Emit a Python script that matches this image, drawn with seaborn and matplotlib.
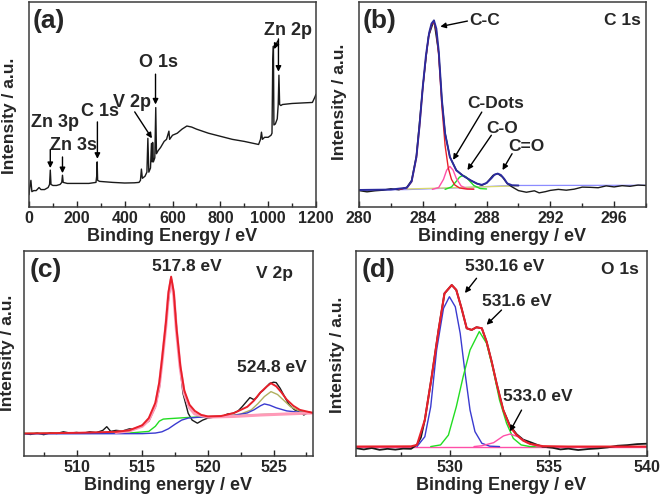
import matplotlib
matplotlib.use("Agg")
import matplotlib.pyplot as plt
from matplotlib.ticker import MultipleLocator
import seaborn as sns

# ---- (a) survey spectrum ----
survey_energy = [0, 4, 8, 12, 20, 30, 42, 50, 65, 80, 86, 89, 92, 100, 115, 130, 137, 140, 143, 160,
                 200, 250, 280, 283, 285, 287, 295, 350, 400, 440, 460, 466, 470, 474, 485, 493, 497, 501, 508, 512,
                 515, 517, 520, 526, 530, 533, 540, 550, 565, 575, 585, 588, 600, 620, 640, 660, 680, 700, 750, 800,
                 850, 900, 940, 960, 968, 972, 976, 985, 1000, 1012, 1016, 1019, 1022, 1024, 1030, 1038, 1042, 1045, 1048, 1053,
                 1060, 1100, 1150, 1185, 1195, 1200]
survey_counts = [6, 10, 13, 7.5, 8, 8, 9.5, 8.5, 8.5, 9.5, 11, 18, 11, 10.5, 10.5, 11, 12, 15.5, 12, 11.5,
                 11.5, 11.5, 12, 15, 22, 13, 12.5, 12, 11.7, 11.8, 12, 13, 18.5, 14, 15, 17, 33.5, 17, 19, 31,
                 22, 31.5, 22, 24, 48.5, 26, 27.5, 29, 32, 33, 37, 33, 35, 36, 38, 39.5, 39, 38, 36, 34.5,
                 33, 32, 31, 30.5, 33, 36.5, 33, 34, 34, 35, 36, 70, 78.5, 40, 40.5, 43, 50, 64.3, 50, 49.5,
                 50, 50.5, 50.8, 51, 53.5, 55]

# ---- (b) C 1s ----
c1s_energy = [280, 280.5, 281, 281.5, 282, 282.5, 283, 283.3, 283.6, 284.0, 284.35, 284.7, 285.0, 285.2, 285.4,
              285.7, 286.1, 286.5, 287.0, 287.4, 287.7, 288.0, 288.4, 288.7, 289.0, 289.3, 289.6, 290.0, 290.5,
              291.0, 291.3, 291.7, 292.0, 292.5, 293.0, 293.5, 294.0, 294.5, 295.0, 295.5, 296.0, 296.5, 297.0,
              297.5, 298.0]
c1s_raw = [8.0, 7.4, 7.9, 8.2, 8.9, 8.4, 9.6, 13, 25, 58.5, 83, 91, 75, 52, 36,
           24.4, 18, 15.4, 13, 11.4, 10.6, 11.7, 15.4, 16.3, 14.6, 11.4, 9.8, 8.0, 7.2,
           7.9, 6.9, 7.5, 8.1, 8.6, 8.2, 8.7, 9.7, 9.6, 9.4, 10.3, 9.8, 10.4, 10.1,
           10.7, 10.5]
c1s_fit_energy = [280, 282, 283, 283.3, 283.6, 283.8, 284.0, 284.2, 284.4, 284.55, 284.7, 284.85, 285.0, 285.2,
                  285.4, 285.7, 286.1, 286.5, 287.0, 287.4, 287.7, 288.0, 288.3, 288.5, 288.7, 288.9, 289.1,
                  289.3, 289.6, 290.0]
c1s_fit = [8.3, 8.5, 9.4, 12.5, 24.4, 40, 58.5, 74, 85, 89.5, 91, 87, 76, 52,
           35.8, 24.4, 17.9, 15.4, 13, 11.4, 10.8, 11.7, 14, 15.8, 16.3, 15.6, 13.8,
           11.5, 10.6, 10.5]
cc_energy = [282.5, 283.0, 283.3, 283.6, 283.8, 284.0, 284.2, 284.4, 284.55, 284.7, 284.85, 285.0, 285.2, 285.4,
             285.6, 285.8, 286.0, 286.3, 286.7, 287.2]
cc_fit = [8.6, 9.3, 12.3, 24, 39.5, 58, 73.5, 84.5, 89, 90.3, 86, 74, 49, 30,
          19, 13.5, 10.8, 9.3, 8.8, 8.7]
dots_energy = [284.6, 285.0, 285.3, 285.5, 285.7, 285.9, 286.1, 286.4, 286.8, 287.2]
dots_fit = [8.6, 9.5, 13.5, 18, 19.8, 18, 14, 10.3, 8.8, 8.7]
co_energy = [285.4, 285.8, 286.1, 286.3, 286.5, 286.7, 286.9, 287.2, 287.6, 288.0]
co_fit = [8.6, 9.8, 12.5, 14.5, 15.4, 14.8, 13, 10.5, 9, 8.8]
c1s_bg_energy = [280, 283, 286, 289, 290, 298]
c1s_bg = [8.3, 8.5, 9.3, 10.3, 10.5, 10.6]

# ---- (c) V 2p ----
v_energy = [506, 506.5, 507, 507.5, 508, 508.5, 509, 509.5, 510, 510.5, 511, 511.5,
            512, 512.3, 512.6, 513, 513.5, 514, 514.5, 515,
            515.5, 516.0, 516.3, 516.6, 516.8, 517.0, 517.2, 517.45, 517.75, 518.1,
            518.5, 518.8, 519.2, 519.6, 520, 520.5, 521, 521.5, 521.9, 522.3,
            522.6, 523.0, 523.2, 523.5, 523.7, 524.0, 524.2, 524.5, 524.7, 525.0,
            525.2, 525.5, 525.7, 526.0, 526.2, 526.6, 527.0, 527.3, 527.7, 528]
v_raw = [11, 10.5, 11.2, 10.4, 11.3, 11, 11.8, 11.2, 11.5, 11.1, 11.8, 11.4,
         12.5, 14.3, 12, 12.5, 12.2, 13.2, 13.3, 15,
         17, 24, 33, 51.7, 65, 76, 86.5, 76, 51.7, 30.6,
         20.8, 17.5, 16, 17.5, 18.5, 19, 19, 20.5, 20.8, 22,
         24, 27, 28.5, 27.5, 28.5, 31, 32, 34, 35.4, 36,
         35.8, 33, 30.6, 27, 24.9, 22.5, 21.6, 20, 21.5, 20.8]
v_fit_energy = [506, 510, 513, 514, 515, 515.5, 516, 516.3, 516.5, 516.8, 517.0, 517.2, 517.4, 517.6, 517.9,
                518.2, 518.6, 519, 519.5, 520, 521, 522, 523, 523.5, 524, 524.5, 524.8, 525.2, 525.6, 526,
                526.5, 527, 528]
v_fit = [11, 11.3, 11.8, 12.5, 15, 18.5, 26, 36, 47, 65, 80, 87.5, 80, 63, 44,
         32, 25, 22, 20, 19.3, 19.5, 21, 24, 27, 31, 34, 35.5, 34, 31, 27.5,
         24.5, 22.5, 21]
v32_energy = [513, 514, 515, 515.5, 516, 516.3, 516.5, 516.8, 517.0, 517.2, 517.4, 517.6, 517.9, 518.2,
              518.6, 519, 520, 522, 524, 526, 528]
v32_fit = [11.5, 12.2, 14.5, 17.5, 24.5, 34.5, 45.5, 63.5, 78.5, 86, 78.5, 61.5, 42.5, 30.5,
           23.5, 20.5, 19, 19.3, 20, 20.5, 21]
v_green_energy = [506, 514, 515.5, 516.0, 516.3, 516.6, 517.0, 517.5, 518.5, 520, 522, 524, 526, 528]
v_green = [11, 11.2, 12, 14.5, 17, 18, 18.2, 18.4, 18.8, 19.2, 19.6, 20.2, 20.6, 21]
v12_energy = [521.5, 522.5, 523.3, 523.8, 524.3, 524.8, 525.3, 525.8, 526.3, 527, 528]
v12_fit = [19.5, 20.5, 22.5, 25.5, 29, 31.4, 30, 27, 24, 21.8, 21]
v_blue_energy = [506, 515, 516, 516.5, 517, 517.5, 518, 518.5, 519.5, 521, 522, 523, 523.5, 524.0, 524.3,
                 524.7, 525.2, 526, 527, 528]
v_blue = [10.8, 10.9, 11.2, 11.8, 13.3, 15.5, 17.5, 18.5, 19, 19.4, 19.8, 21, 22.5, 24.5, 25.4,
          24.8, 23.5, 22, 21.3, 21]

# ---- (d) O 1s ----
o_energy = [525.2, 525.6, 526, 526.4, 526.8, 527.2, 527.6, 528, 528.3, 528.5,
            528.7, 529.05, 529.4, 529.7, 530.07, 530.3, 530.57, 530.83, 531.08, 531.33,
            531.6, 531.84, 532.1, 532.35, 532.69, 533.03, 533.37, 533.7, 534.05, 534.4,
            534.7, 535.2, 535.6, 536, 536.5, 537, 537.5, 538, 538.5, 539, 539.5, 540]
o_raw = [3.8, 3.2, 3.9, 3.0, 3.5, 3.1, 3.6, 3.5, 5.5, 9,
         17.6, 38.7, 61.5, 79.3, 83.4, 81, 72, 62.3, 61.5, 62.8,
         62.3, 55.8, 46, 35.4, 22.4, 14.8, 10.6, 8, 6.8, 5.5,
         4.5, 4.0, 3.2, 3.6, 2.9, 3.4, 3.7, 4.2, 5.0, 5.3, 5.8, 6.0]
o_fit_energy = [525.2, 528, 528.3, 528.7, 529.05, 529.4, 529.7, 530.07, 530.3, 530.57, 530.83, 531.08, 531.33,
                531.6, 531.84, 532.1, 532.35, 532.69, 533.03, 533.37, 533.7, 534.05, 534.7, 536, 540]
o_fit = [4.6, 4.7, 5.4, 17.6, 38.7, 61.5, 79.3, 83.4, 81, 72, 62.3, 61.5, 62.8,
         62.3, 55.8, 46, 35.4, 22.4, 14.3, 10.2, 7.5, 5.9, 4.8, 4.6, 4.6]
o1_energy = [528.3, 528.7, 529.0, 529.3, 529.65, 529.95, 530.25, 530.5, 530.75, 531.0, 531.25, 531.6, 532.0, 532.5]
o1_fit = [4.6, 9.4, 24, 51.7, 72, 77.7, 72.8, 59.8, 40.3, 22.4, 11.9, 6.2, 4.8, 4.6]
o2_energy = [529.0, 529.5, 529.9, 530.3, 530.65, 531.0, 531.47, 531.84, 532.18, 532.5, 532.86, 533.2, 533.6,
             534.05, 534.6]
o2_fit = [4.6, 5.4, 10.2, 24, 38.7, 51.7, 60.7, 55, 42, 27.3, 15.9, 8.6, 5.4, 4.6, 4.6]
o3_energy = [531.2, 531.6, 532.2, 532.7, 533.03, 533.45, 533.9, 534.4, 534.9]
o3_fit = [4.6, 5, 6.5, 9.8, 10.7, 9.4, 6.5, 4.8, 4.6]
o_bg_energy = [525.2, 540]
o_bg = [4.6, 4.6]

# ---- style ----
sns.set_style("ticks", {"xtick.direction": "in", "ytick.direction": "in"})
plt.rcParams["font.family"] = ["Liberation Sans", "DejaVu Sans"]
plt.rcParams["font.weight"] = "bold"
plt.rcParams["axes.labelweight"] = "bold"

BLACK = "#1a1a1a"
NAVY = "#2b2b9e"
RED = "#e8202a"
PINK = "#ff4fa8"
GREEN = "#22dd22"
OLIVE = "#b0b060"
LBLUE = "#8c8cff"

fig = plt.figure(figsize=(6.63, 4.98), dpi=100)
W, H = 663, 498


def make_ax(l, r, t, b):
    return fig.add_axes([l / W, (H - b) / H, (r - l) / W, (b - t) / H])


ax_a = make_ax(29, 316, 2, 207)
ax_b = make_ax(359, 646, 2, 207)
ax_c = make_ax(24, 313, 251, 456)
ax_d = make_ax(356, 647, 251, 456)


def line(ax, x, y, color, lw=1.0):
    sns.lineplot(x=x, y=y, ax=ax, color=color, linewidth=lw, estimator=None, sort=False)


def arrow(ax, start, end):
    ax.annotate("", xy=end, xytext=start,
                arrowprops=dict(arrowstyle="-|>", color="black", lw=1.0, mutation_scale=8,
                                shrinkA=0, shrinkB=0))


def label(ax, x, y, s, size=12.5, ha="center"):
    ax.text(x, y, s, ha=ha, va="center", fontsize=size, fontweight="bold")


# (a)
line(ax_a, survey_energy, survey_counts, BLACK, 1.0)
for s, xy in [("Zn 3p", (110, 41)), ("Zn 3s", (184, 30)), ("C 1s", (298, 46.7)),
              ("V 2p", (432, 50.8)), ("O 1s", (540, 70.5)), ("Zn 2p", (1084, 86))]:
    label(ax_a, xy[0], xy[1], s, size=13)
arrow(ax_a, (89, 28), (89, 19))
arrow(ax_a, (140, 24.4), (140, 16.5))
arrow(ax_a, (286, 41.5), (286, 23.5))
arrow(ax_a, (442, 46.4), (514, 33.5))
arrow(ax_a, (529, 64.8), (529, 50))
arrow(ax_a, (1040, 81), (1025, 77))
arrow(ax_a, (1043, 82), (1043, 66))
ax_a.set_xlim(0, 1200)
ax_a.xaxis.set_major_locator(MultipleLocator(200))
ax_a.xaxis.set_minor_locator(MultipleLocator(100))
ax_a.set_xlabel("Binding Energy / eV")

# (b)
line(ax_b, c1s_bg_energy, c1s_bg, LBLUE, 0.9)
line(ax_b, [283, 290], [8.8, 10.3], "#d8d870", 0.9)
line(ax_b, c1s_energy, c1s_raw, BLACK, 1.0)
line(ax_b, co_energy, co_fit, GREEN, 1.0)
line(ax_b, dots_energy, dots_fit, PINK, 1.0)
line(ax_b, cc_energy, cc_fit, RED, 1.0)
line(ax_b, c1s_fit_energy, c1s_fit, NAVY, 1.4)
label(ax_b, 287.9, 91.2, "C-C")
label(ax_b, 297.7, 91.2, "C 1s", ha="right")
label(ax_b, 288.6, 50.4, "C-Dots")
label(ax_b, 288.95, 38.5, "C-O")
label(ax_b, 290.5, 29.3, "C=O")
arrow(ax_b, (286.8, 90.7), (285.1, 88))
arrow(ax_b, (287.7, 46.3), (285.9, 23))
arrow(ax_b, (288.3, 35), (286.8, 18))
arrow(ax_b, (289.6, 26), (289.0, 18))
ax_b.set_xlim(280, 298)
ax_b.xaxis.set_major_locator(MultipleLocator(4))
ax_b.xaxis.set_minor_locator(MultipleLocator(2))
ax_b.set_xlabel("Binding energy / eV")

# (c)
line(ax_c, v_energy, v_raw, BLACK, 1.0)
line(ax_c, v_green_energy, v_green, GREEN, 1.0)
line(ax_c, v12_energy, v12_fit, OLIVE, 1.0)
line(ax_c, v_blue_energy, v_blue, "#3a3ad0", 1.0)
line(ax_c, v32_energy, v32_fit, "#ff9ab8", 2.2)
line(ax_c, v_fit_energy, v_fit, RED, 1.4)
label(ax_c, 518.4, 92.4, "517.8 eV")
label(ax_c, 525.1, 89, "V 2p")
label(ax_c, 524.85, 43.3, "524.8 eV")
ax_c.set_xlim(506, 528)
ax_c.xaxis.set_major_locator(MultipleLocator(5))
ax_c.xaxis.set_minor_locator(MultipleLocator(2.5))
ax_c.set_xlabel("Binding energy / eV")

# (d)
line(ax_d, o_bg_energy, o_bg, PINK, 1.0)
line(ax_d, o_energy, o_raw, BLACK, 1.3)
line(ax_d, o1_energy, o1_fit, "#3a3ad0", 1.0)
line(ax_d, o2_energy, o2_fit, GREEN, 1.0)
line(ax_d, o3_energy, o3_fit, PINK, 1.0)
line(ax_d, o_fit_energy, o_fit, RED, 1.5)
label(ax_d, 532.77, 92.4, "530.16 eV")
label(ax_d, 533.37, 75.3, "531.6 eV")
label(ax_d, 534.47, 29, "533.0 eV")
label(ax_d, 539.6, 91, "O 1s", ha="right")
arrow(ax_d, (531.33, 86.7), (530.74, 79.5))
arrow(ax_d, (532.6, 71.2), (531.84, 64))
arrow(ax_d, (533.62, 22.4), (533.03, 12))
ax_d.set_xlim(525.2, 540)
ax_d.xaxis.set_major_locator(MultipleLocator(5))
ax_d.xaxis.set_minor_locator(MultipleLocator(2.5))
ax_d.set_xlabel("Binding Energy / eV")

ylab_pos = {ax_a: (-0.042, 0.444), ax_b: (-0.042, 0.512), ax_c: (-0.031, 0.502), ax_d: (-0.038, 0.493)}
for ax, tag, lx in [(ax_a, "(a)", 0.012), (ax_b, "(b)", 0.014), (ax_c, "(c)", 0.02), (ax_d, "(d)", 0.02)]:
    ax.set_ylim(0, 100)
    ax.set_yticks([])
    ax.set_ylabel("Intensity / a.u.", fontsize=12.5, fontweight="bold")
    ax.yaxis.set_label_coords(*ylab_pos[ax])
    ax.xaxis.label.set_size(13)
    ax.xaxis.labelpad = 1
    ax.tick_params(axis="x", which="major", direction="in", length=4, width=1, labelsize=11.5, pad=3, top=False)
    ax.tick_params(axis="x", which="minor", direction="in", length=3, width=1, top=False)
    for sp in ax.spines.values():
        sp.set_visible(True)
        sp.set_color("#3c3c3c")
        sp.set_linewidth(1.1)
    ax.text(lx, 0.965, tag, transform=ax.transAxes, ha="left", va="top", fontsize=19, fontweight="bold")
    if ax.get_legend() is not None:
        ax.get_legend().remove()

fig.savefig("out.png", dpi=100)
